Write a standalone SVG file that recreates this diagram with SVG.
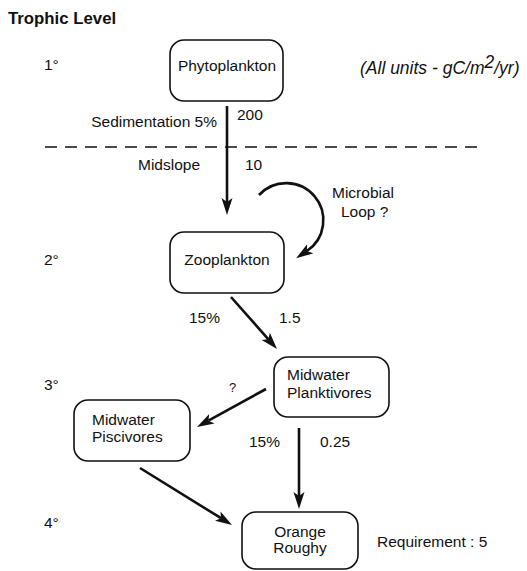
<svg xmlns="http://www.w3.org/2000/svg" width="527" height="571" viewBox="0 0 527 571">
<style>
text{font-family:"Liberation Sans",Arial,sans-serif;font-size:15.5px;fill:#111}
.b{font-weight:bold;font-size:16.8px}
.c{text-anchor:middle}
.i{font-style:italic;font-size:17.5px}
.box{fill:#fff;stroke:#111;stroke-width:1.6}
.ln{fill:none;stroke:#111;stroke-width:2.6}
</style>
<defs>
<marker id="ah" markerUnits="userSpaceOnUse" markerWidth="18" markerHeight="12" refX="4" refY="5.5" orient="auto" viewBox="0 0 18 11">
<path d="M0,0 L17,5.5 L0,11 L4,5.5 z" fill="#111"/>
</marker>
</defs>
<rect width="527" height="571" fill="#fff"/>
<g id="labels">
<text class="b" x="8" y="24">Trophic Level</text>
<text x="44" y="70">1°</text>
<text x="44" y="265">2°</text>
<text x="44" y="390">3°</text>
<text x="44" y="528">4°</text>
<text class="i" x="360" y="74">(All units - gC/m<tspan dy="-6">2</tspan><tspan dy="6">/yr)</tspan></text>
<text x="217" y="127" style="text-anchor:end">Sedimentation 5%</text>
<text x="237" y="120">200</text>
<text x="138" y="170">Midslope</text>
<text x="245" y="170">10</text>
<text x="332" y="198">Microbial</text>
<text x="341" y="217">Loop ?</text>
<text x="189" y="323">15%</text>
<text x="279" y="323">1.5</text>
<text x="229" y="392" style="font-size:13px">?</text>
<text x="249" y="447">15%</text>
<text x="320" y="447">0.25</text>
<text x="377" y="547">Requirement : 5</text>
</g>
<g id="connectors">
<line x1="45" y1="147" x2="485" y2="147" stroke="#111" stroke-width="1.4" stroke-dasharray="12 8"/>
<path class="ln" d="M227,106 L227,202" marker-end="url(#ah)"/>
<path class="ln" d="M259,195 A37.1,37.1 0 1 1 306.9,251" marker-end="url(#ah)"/>
<path class="ln" d="M231,297 L268.4,339.3" marker-end="url(#ah)"/>
<path class="ln" d="M266,389 L208.4,420.7" marker-end="url(#ah)"/>
<path class="ln" d="M299,428 L299,496" marker-end="url(#ah)"/>
<path class="ln" d="M140,468 L221,518.2" marker-end="url(#ah)"/>
</g>
<g id="phytoplankton">
<rect class="box" x="170" y="40" width="113" height="61" rx="14"/>
<text class="c" x="227" y="71">Phytoplankton</text>
</g>
<g id="zooplankton">
<rect class="box" x="170" y="232" width="114" height="61" rx="14"/>
<text class="c" x="227" y="265">Zooplankton</text>
</g>
<g id="planktivores">
<rect class="box" x="274" y="357" width="115" height="60" rx="14"/>
<text x="287" y="380">Midwater</text>
<text x="287" y="398">Planktivores</text>
</g>
<g id="piscivores">
<rect class="box" x="74" y="400" width="116" height="61" rx="14"/>
<text x="92" y="425">Midwater</text>
<text x="92" y="442">Piscivores</text>
</g>
<g id="roughy">
<rect class="box" x="242" y="512" width="116" height="57" rx="14"/>
<text class="c" x="300" y="537">Orange</text>
<text class="c" x="300" y="553">Roughy</text>
</g>
</svg>
